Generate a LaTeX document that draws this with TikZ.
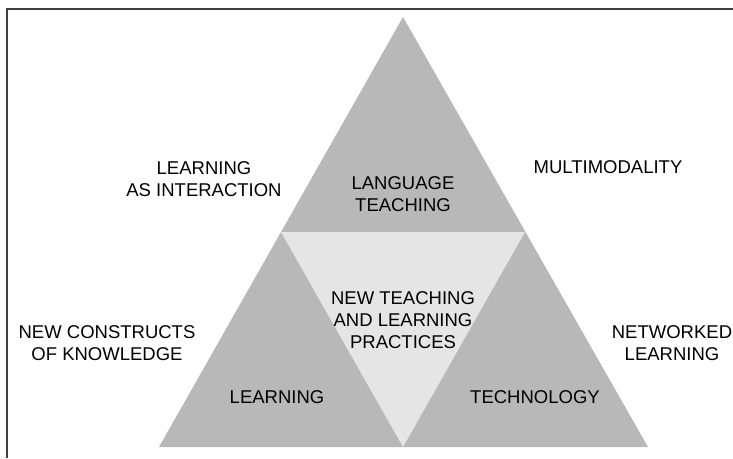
\documentclass[tikz,border=0pt]{standalone}
\usepackage{fontspec}
\setmainfont{Liberation Sans}
\usetikzlibrary{positioning}

\begin{document}
\begin{tikzpicture}[x=1pt, y=-1pt, font=\fontsize{18.5}{22}\selectfont]
        \tikzstyle{label} = [align=center, inner sep=0pt, text=black]
        \tikzstyle{frameline} = [draw=black!75, line width=1.4pt]
        \useasboundingbox (0,0) rectangle (733,458);

        % Esquinas del marco
        \coordinate (frameR) at (733,9);
        \coordinate (frameTL) at (7,9);
        \coordinate (frameB) at (7,458);

        % Vértices del triángulo grande
        \coordinate (apex) at (403,17);
        \coordinate (baseL) at (159,447);
        \coordinate (baseR) at (648,447);
        % Triángulo central invertido
        \coordinate (midL) at (281,232);
        \coordinate (midR) at (525,232);
        \coordinate (midB) at (403,447);

        \fill[black!28] (apex) -- (baseR) -- (baseL) -- cycle;
        \fill[black!10] (midL) -- (midR) -- (midB) -- cycle;
        \draw[frameline] (frameR) -- (frameTL) -- (frameB);

        % Textos dentro del triángulo
        \node [label] at (403,194.5) (language) {LANGUAGE\\TEACHING};
        \node [label] at (403,320) (practices) {NEW TEACHING\\AND LEARNING\\PRACTICES};
        \node [label] at (277,397) (learning) {LEARNING};
        \node [label] at (535,397) (technology) {TECHNOLOGY};

        % Textos de fuera
        \node [label] at (204,179) (interaction) {LEARNING\\AS INTERACTION};
        \node [label] at (608,167) (multimodality) {MULTIMODALITY};
        \node [label] at (107,343) (constructs) {NEW CONSTRUCTS\\OF KNOWLEDGE};
        \node [label] at (672,343) (networked) {NETWORKED\\LEARNING};

        \end{tikzpicture}
\end{document}
